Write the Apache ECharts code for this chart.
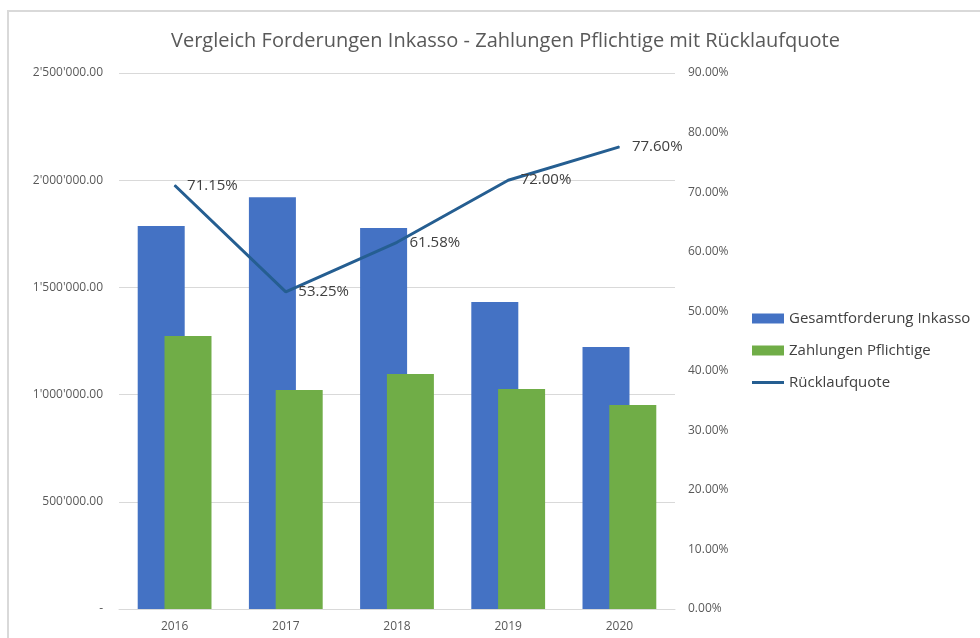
<!DOCTYPE html>
<html>
<head>
<meta charset="utf-8">
<script src="https://cdn.jsdelivr.net/npm/echarts@6/dist/echarts.min.js"></script>
<style>
  html, body { margin: 0; padding: 0; background: #fff; }
  #main { width: 980px; height: 638px; }
</style>
</head>
<body>
<div id="main"></div>
<script>
// Daten
var years = ["2016", "2017", "2018", "2019", "2020"];
var gesamtforderung = [1786000, 1921000, 1777000, 1432000, 1222000];
var zahlungen = [1273000, 1021000, 1096000, 1026000, 951000];
var ruecklaufquote = [71.15, 53.25, 61.58, 72.00, 77.60];

var fontFam = "'Open Sans', 'Liberation Sans', sans-serif";

// 1234567.5 -> 1'234'567.50
function chf(v) {
  if (v === 0) return "-";
  var parts = v.toFixed(2).split(".");
  return parts[0].replace(/\B(?=(\d{3})+(?!\d))/g, "'") + "." + parts[1];
}

var myChart = echarts.init(document.getElementById("main"));
myChart.setOption({
  animation: false,
  textStyle: { fontFamily: fontFam },
  title: {
    text: "Vergleich Forderungen Inkasso - Zahlungen Pflichtige mit Rücklaufquote",
    left: 166,
    top: 26,
    textStyle: { fontSize: 20, fontWeight: "normal", color: "#595959", fontFamily: fontFam }
  },
  graphic: [{
    type: "rect",
    shape: { x: 8, y: 11, width: 1000, height: 700 },
    style: { fill: "none", stroke: "#d9d9d9", lineWidth: 2 },
    silent: true
  }],
  legend: {
    orient: "vertical",
    left: 752,
    top: 311,
    padding: 0,
    itemWidth: 32,
    itemHeight: 10,
    itemGap: 17,
    textStyle: { fontSize: 15, color: "#404040", padding: [0, 0, 0, 0] },
    data: [
      { name: "Gesamtforderung Inkasso", icon: "rect" },
      { name: "Zahlungen Pflichtige", icon: "rect" },
      { name: "Rücklaufquote", icon: "path://M0,4h32v3h-32z" }
    ]
  },
  grid: { left: 119, right: 305, top: 73, bottom: 29 },
  xAxis: {
    type: "category",
    data: years,
    axisLine: { lineStyle: { color: "#d9d9d9", width: 1 } },
    axisTick: { show: false },
    axisLabel: { color: "#595959", fontSize: 12, margin: 12 }
  },
  yAxis: [{
    type: "value",
    min: 0,
    max: 2500000,
    interval: 500000,
    axisLine: { show: false },
    axisTick: { show: false },
    splitLine: { lineStyle: { color: "#d9d9d9", width: 1 } },
    axisLabel: { color: "#595959", fontSize: 12, margin: 16, formatter: chf }
  }, {
    type: "value",
    min: 0,
    max: 90,
    interval: 10,
    axisLine: { show: false },
    axisTick: { show: false },
    splitLine: { show: false },
    axisLabel: { color: "#595959", fontSize: 12, margin: 13, formatter: function (v) { return v.toFixed(2) + "%"; } }
  }],
  series: [{
    name: "Gesamtforderung Inkasso",
    type: "bar",
    data: gesamtforderung,
    barWidth: 47,
    barGap: "-43%",
    itemStyle: { color: "#4472C4" }
  }, {
    name: "Zahlungen Pflichtige",
    type: "bar",
    data: zahlungen,
    barWidth: 47,
    itemStyle: { color: "#70AD47" }
  }, {
    name: "Rücklaufquote",
    type: "line",
    yAxisIndex: 1,
    data: ruecklaufquote,
    symbol: "circle",
    symbolSize: 1,
    showSymbol: true,
    lineStyle: { color: "#255E91", width: 3 },
    itemStyle: { color: "#255E91" },
    label: {
      show: true,
      position: "right",
      distance: 12,
      fontSize: 15,
      color: "#404040",
      formatter: function (p) { return p.value.toFixed(2) + "%"; }
    }
  }]
});
</script>
</body>
</html>
